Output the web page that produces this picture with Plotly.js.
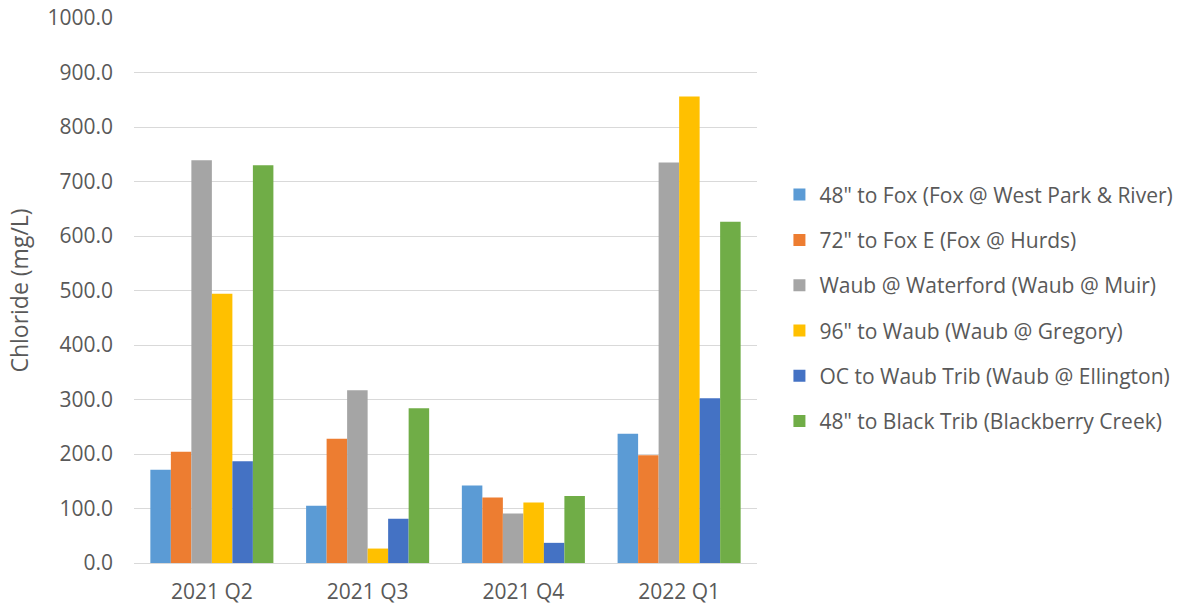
<!DOCTYPE html>
<html>
<head>
<meta charset="utf-8">
<script src="https://cdn.plot.ly/plotly-3.0.1.min.js"></script>
<style>html,body{margin:0;padding:0;background:#fff;}#chart{width:1190px;height:610px;}</style>
</head>
<body>
<div id="chart"></div>
<script>
const categories = ["2021 Q2", "2021 Q3", "2021 Q4", "2022 Q1"];
const seriesNames = [
  "48\" to Fox (Fox @ West Park & River)",
  "72\" to Fox E (Fox @ Hurds)",
  "Waub @ Waterford (Waub @ Muir)",
  "96\" to Waub (Waub @ Gregory)",
  "OC to Waub Trib (Waub @ Ellington)",
  "48\" to Black Trib (Blackberry Creek)"
];
const fox48 = [171, 105, 142, 237];
const fox72 = [204, 228, 120, 197.5];
const waubWaterford = [739, 317, 91, 735];
const waub96 = [494, 26.5, 111, 856];
const ocWaub = [186.5, 81, 37, 302.5];
const black48 = [730, 284, 123, 626];
const seriesValues = [fox48, fox72, waubWaterford, waub96, ocWaub, black48];
const colors = ["#5B9BD5", "#ED7D31", "#A5A5A5", "#FFC000", "#4472C4", "#70AD47"];
const yTickVals = [0,100,200,300,400,500,600,700,800,900,1000];
const yTickText = yTickVals.map(v => v.toFixed(1));

const traces = seriesNames.map((name, i) => ({
  type: "bar",
  name: name,
  x: categories,
  y: seriesValues[i],
  marker: {color: colors[i]},
  legendgroup: "g" + i,
  hoverinfo: "y+name"
}));

const layout = {
  width: 1190,
  height: 610,
  margin: {l: 134, r: 431, t: 18, b: 46.7},
  paper_bgcolor: "#ffffff",
  plot_bgcolor: "#ffffff",
  font: {family: "Open Sans, sans-serif", size: 21, color: "#595959"},
  barmode: "group",
  bargap: 0.21,
  bargroupgap: 0,
  xaxis: {
    type: "category",
    showgrid: false,
    showline: true,
    linecolor: "#D9D9D9",
    linewidth: 1,
    ticks: "",
    ticklabelstandoff: 10,
    tickfont: {size: 21, color: "#595959"},
    fixedrange: true
  },
  yaxis: {
    range: [0, 1000],
    tickvals: yTickVals,
    ticktext: yTickText,
    showgrid: true,
    gridcolor: "#D9D9D9",
    gridwidth: 1,
    zeroline: false,
    showline: false,
    ticks: "",
    ticklen: 0,
    ticklabelstandoff: 20,
    tickfont: {size: 21, color: "#595959"},
    title: {text: "Chloride (mg/L)", font: {size: 23, color: "#595959"}, standoff: 12},
    fixedrange: true
  },
  legend: {
    x: 1.036,
    y: 0.468,
    xanchor: "left",
    yanchor: "middle",
    traceorder: "grouped",
    tracegroupgap: 15,
    font: {size: 21, color: "#595959"},
    itemwidth: 30
  },
  showlegend: true
};

Plotly.newPlot("chart", traces, layout, {displayModeBar: false, staticPlot: true});
</script>
</body>
</html>
